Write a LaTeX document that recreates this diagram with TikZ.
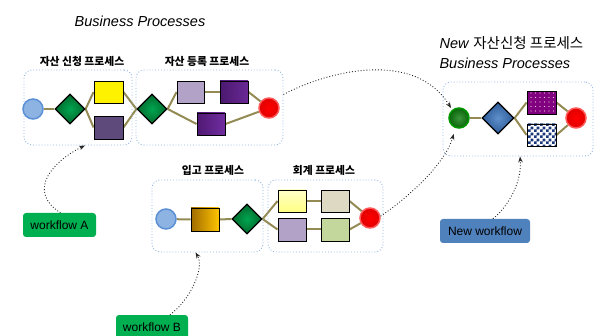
\documentclass[tikz,border=0pt]{standalone}
\usepackage{fontspec}
\setmainfont{Liberation Sans}
\newfontfamily\kr{Noto Sans CJK KR}
\usetikzlibrary{shapes.geometric,arrows.meta,patterns}
\definecolor{olivel}{HTML}{948A54}
\definecolor{grpc}{HTML}{8DB3E2}
\definecolor{ballblue}{HTML}{8DB3E2}
\definecolor{ballblueb}{HTML}{5B8FD6}
\definecolor{wfgreen}{HTML}{00B050}
\definecolor{wfblue}{HTML}{4F81BD}
\definecolor{gwin}{RGB}{0,165,80}
\definecolor{gwout}{RGB}{0,105,45}
\pgfdeclarelayer{bg}
\pgfsetlayers{bg,main}
\pgfdeclarepatternformonly{mycheck}{\pgfpointorigin}{\pgfqpoint{6pt}{6pt}}{\pgfqpoint{6pt}{6pt}}{%
  \pgfpathrectangle{\pgfpointorigin}{\pgfqpoint{3pt}{3pt}}%
  \pgfpathrectangle{\pgfqpoint{3pt}{3pt}}{\pgfqpoint{3pt}{3pt}}%
  \pgfusepath{fill}}
\pgfdeclarepatternformonly{mydots}{\pgfqpoint{-1pt}{-1pt}}{\pgfqpoint{1pt}{1pt}}{\pgfqpoint{4.5pt}{4.5pt}}{%
  \pgfpathcircle{\pgfpointorigin}{0.7pt}\pgfusepath{fill}}
\begin{document}
\begin{tikzpicture}[x=1pt,y=-1pt,
  grp/.style={draw=grpc, dotted, line width=0.9pt, rounded corners=8pt, inner sep=0},
  act/.style={draw=black, line width=0.9pt, minimum width=28pt, minimum height=22pt, inner sep=0},
  gw/.style={diamond, draw=black, line width=1.3pt, minimum width=30pt, minimum height=30pt, inner sep=0, aspect=1},
  ggw/.style={gw, inner color=gwin, outer color=gwout},
  ball/.style={circle, minimum size=20pt, inner sep=0, line width=1.5pt},
  redball/.style={ball, inner color=red, outer color=red!88!black, draw=red!65!white},
  flow/.style={draw=olivel, line width=2pt},
  note/.style={draw=black!85, dotted, line width=0.9pt, -{Stealth[length=6pt,width=4.5pt]}},
  lab/.style={font=\kr\bfseries\fontsize{10.8}{12}\selectfont},
  wf/.style={rounded corners=3pt, fill=#1, text=black, font=\fontsize{12}{14}\selectfont, minimum height=24pt, inner sep=0},
  ttl/.style={font=\itshape\fontsize{14.5}{16}\selectfont}
]
\useasboundingbox (0,0) rectangle (604,336);

% titles
\node[ttl] (t1) at (140,21) {Business Processes};
\node[anchor=west, font=\fontsize{14.5}{16}\selectfont] (t2) at (436,43) {\textit{New} {\kr 자산신청 프로세스}};
\node[ttl, anchor=west] (t3) at (436,63) {Business Processes};

% group boxes
\node[grp, minimum width=108pt, minimum height=75pt] (box1) at (78,107.5) {};
\node[grp, minimum width=147pt, minimum height=75pt] (box2) at (209.5,107.5) {};
\node[grp, minimum width=111pt, minimum height=72pt] (box3) at (207.5,216) {};
\node[grp, minimum width=115pt, minimum height=72pt] (box4) at (325.5,216) {};
\node[grp, minimum width=150pt, minimum height=74pt] (box5) at (518,119) {};

% group labels
\node[lab] (l1) at (82,61) {자산 신청 프로세스};
\node[lab] (l2) at (207,61) {자산 등록 프로세스};
\node[lab] (l3) at (213,170) {입고 프로세스};
\node[lab] (l4) at (324,170) {회계 프로세스};

% process 1
\node[ball, fill=ballblue, draw=ballblueb] (c1) at (33,109) {};
\node[ggw] (d1) at (70,109) {};
\node[act, fill=yellow, minimum width=29pt] (r1a) at (108.5,92) {};
\node[act, fill={rgb,255:red,95;green,75;blue,123}, minimum width=29pt, minimum height=23pt] (r1b) at (108.5,127.5) {};
% process 2
\node[ggw] (d2) at (152,109) {};
\node[act, fill={rgb,255:red,179;green,162;blue,199}, minimum width=27pt] (r2a) at (190.5,92) {};
\node[act, left color={rgb,255:red,75;green,25;blue,110}, right color={rgb,255:red,105;green,40;blue,150}] (r2b) at (234,92) {};
\node[act, left color={rgb,255:red,80;green,25;blue,115}, right color={rgb,255:red,112;green,45;blue,160}] (r2c) at (211,124) {};
\node[redball] (e2) at (269,108) {};

% process 3
\node[ball, fill=ballblue, draw=ballblueb] (c3) at (166,219) {};
\node[act, left color={rgb,255:red,160;green,108;blue,0}, right color={rgb,255:red,255;green,196;blue,0}, minimum height=23pt] (r3) at (205,219.5) {};
\node[ggw] (d3) at (247,219) {};
% process 4
\node[act, top color={rgb,255:red,255;green,255;blue,200}, bottom color={rgb,255:red,255;green,255;blue,130}] (r4a) at (292,201) {};
\node[act, fill={rgb,255:red,179;green,162;blue,199}, minimum height=23pt] (r4b) at (292,229.5) {};
\node[act, fill={rgb,255:red,221;green,217;blue,195}] (r4c) at (335,201) {};
\node[act, fill={rgb,255:red,195;green,214;blue,155}, minimum height=23pt] (r4d) at (335,229.5) {};
\node[redball] (e4) at (370,218) {};

% new process
\node[ball, inner color={rgb,255:red,60;green,150;blue,60}, outer color={rgb,255:red,10;green,100;blue,10}, draw={rgb,255:red,0;green,150;blue,0}] (c5) at (459,118) {};
\node[gw, minimum width=32pt, minimum height=32pt, inner color={rgb,255:red,95;green,145;blue,205}, outer color={rgb,255:red,45;green,90;blue,150}] (d5) at (498,118) {};
\node[act, minimum width=29pt, minimum height=23pt, preaction={fill={rgb,255:red,128;green,0;blue,128}}, pattern=mydots, pattern color=white!80!purple] (r5a) at (541.5,102.5) {};
\node[act, minimum width=29pt, preaction={fill=white}, pattern=mycheck, pattern color={rgb,255:red,25;green,55;blue,120}] (r5b) at (541.5,135) {};
\node[redball] (e5) at (576,118) {};

% workflow labels
\node[wf=wfgreen, minimum width=73pt] (wfA) at (59.5,225) {workflow A};
\node[wf=wfgreen, minimum width=72pt] (wfB) at (152,327) {workflow B};
\node[wf=wfblue, minimum width=90pt] (newwf) at (485,231) {New workflow};

% flows
\begin{pgfonlayer}{bg}
\draw[flow] (c1) -- (d1.west);
\draw[flow] (d1.east) -- (r1a.west);
\draw[flow] (d1.east) -- (r1b.west);
\draw[flow] (r1a.east) -- (d2.west);
\draw[flow] (r1b.east) -- (d2.west);
\draw[flow] (d2.east) -- (r2a.west);
\draw[flow] (d2.east) -- (r2c.west);
\draw[flow] (r2a.east) -- (r2b.west);
\draw[flow] (r2b.east) -- (e2);
\draw[flow] (r2c.east) -- (e2);
\draw[flow] (c3) -- (r3.west);
\draw[flow] (r3.east) -- (d3.west);
\draw[flow] (d3.east) -- (r4a.west);
\draw[flow] (d3.east) -- (r4b.west);
\draw[flow] (r4a.east) -- (r4c.west);
\draw[flow] (r4b.east) -- (r4d.west);
\draw[flow] (r4c.east) -- (e4);
\draw[flow] (r4d.east) -- (e4);
\draw[flow] (c5) -- (d5.west);
\draw[flow] (d5.east) -- (r5a.west);
\draw[flow] (d5.east) -- (r5b.west);
\draw[flow] (r5a.east) -- (e5);
\draw[flow] (r5b.east) -- (e5);
\end{pgfonlayer}

% dotted notes
\draw[note] ([xshift=1pt]wfA.north) .. controls (25,190) and (55,160) .. ([xshift=7pt]box1.south);
\draw[note] ([xshift=18pt]wfB.north) .. controls (190,300) and (205,268) .. ([xshift=-12pt]box3.south);
\draw[note, shorten >=2pt] (box2.10) .. controls (330,70) and (415,50) .. (c5.130);
\draw[note, shorten >=6pt] (e4.10) .. controls (405,200) and (445,165) .. (c5.-110);
\draw[note] ([xshift=8pt]newwf.north) .. controls (510,205) and (522,180) .. ([xshift=2pt]box5.south);
\end{tikzpicture}
\end{document}
